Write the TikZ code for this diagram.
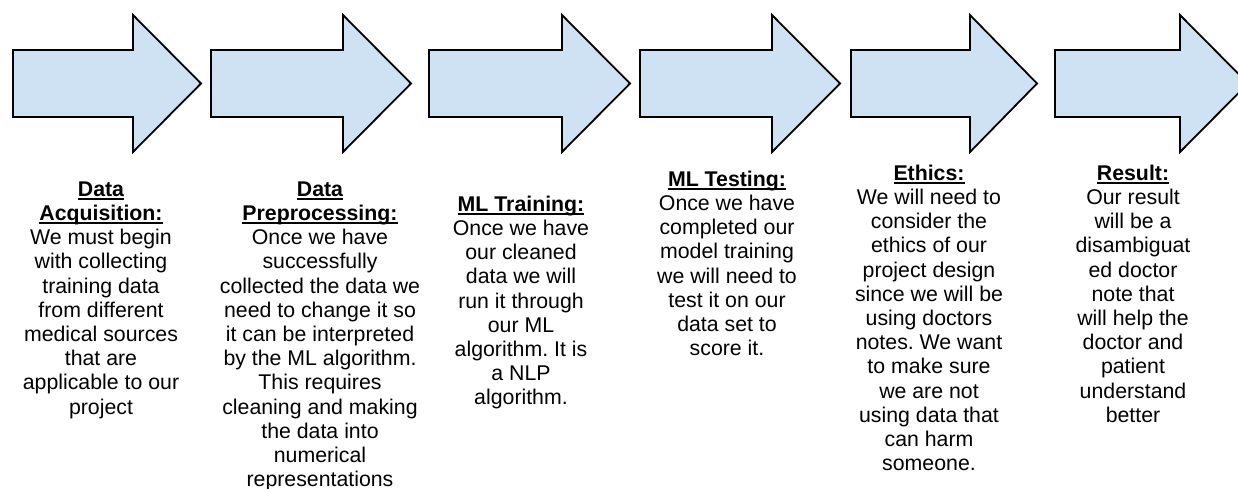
\documentclass[tikz,border=0pt]{standalone}
\usepackage{fontspec}
\setmainfont{Liberation Sans}
\frenchspacing
\definecolor{arrowfill}{HTML}{CFE2F3}
\newcommand\hdline[1]{\setbox0\hbox{\bfseries #1}\rlap{\rule[-3.4pt]{\wd0}{1.8pt}}\box0}
\tikzset{
  bigarrow/.style={draw=black, fill=arrowfill, line width=1.8pt, line join=miter},
  stepnote/.style={anchor=north, align=center, inner sep=0pt, font=\fontsize{21.3}{24.2}\selectfont\frenchspacing}
}
\newcommand\arrowat[3]{% left, head base, tip
  \draw[bigarrow] (#1,50) -- (#2,50) -- (#2,15) -- (#3,83.5) -- (#2,152) -- (#2,117) -- (#1,117) -- cycle;}
\begin{document}
\begin{tikzpicture}[x=1pt,y=-1pt]
\useasboundingbox (0,0) rectangle (1238,489);
\clip (0,0) rectangle (1238,489);
\fill[white] (0,0) rectangle (1238,489);
\arrowat{13}{133}{201}
\arrowat{211}{343}{411}
\arrowat{429}{562}{630}
\arrowat{640}{772}{840}
\arrowat{851}{970}{1037}
\arrowat{1055}{1180}{1248}
\node[stepnote] (acq) at (101,{196-16.94}) {\strut\hdline{Data}\\\hdline{Acquisition:}\\We must begin\\with collecting\\training data\\from different\\medical sources\\that are\\applicable to our\\project};
\node[stepnote] (pre) at (320,{196-16.94}) {\strut\hdline{Data}\\\hdline{Preprocessing:}\\Once we have\\successfully\\collected the data we\\need to change it so\\it can be interpreted\\by the ML algorithm.\\This requires\\cleaning and making\\the data into\\numerical\\representations};
\node[stepnote] (train) at (521,{211-16.94}) {\strut\hdline{ML Training:}\\Once we have\\our cleaned\\data we will\\run it through\\our ML\\algorithm. It is\\a NLP\\algorithm.};
\node[stepnote] (test) at (727,{186-16.94}) {\strut\hdline{ML Testing:}\\Once we have\\completed our\\model training\\we will need to\\test it on our\\data set to\\score it.};
\node[stepnote] (eth) at (929,{180-16.94}) {\strut\hdline{Ethics:}\\We will need to\\consider the\\ethics of our\\project design\\since we will be\\using doctors\\notes. We want\\to make sure\\we are not\\using data that\\can harm\\someone.};
\node[stepnote] (res) at (1133,{180-16.94}) {\strut\hdline{Result:}\\Our result\\will be a\\disambiguat\\ed doctor\\note that\\will help the\\doctor and\\patient\\understand\\better};
\end{tikzpicture}
\end{document}
